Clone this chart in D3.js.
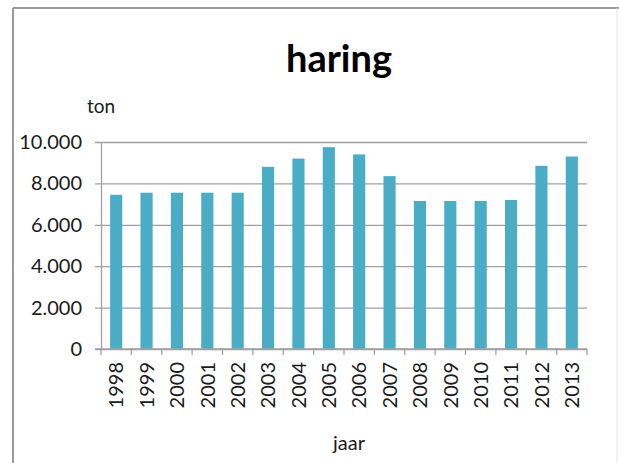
<!DOCTYPE html>
<html>
<head>
<meta charset="utf-8">
<script src="https://cdn.jsdelivr.net/npm/d3@7/dist/d3.min.js"></script>
<style>
  html, body { margin: 0; padding: 0; background: #fff; }
  svg { display: block; }
  text { font-family: Lato, "Open Sans", sans-serif; }
</style>
</head>
<body>
<svg id="chart" width="619" height="463"></svg>
<script>
const years = ["1998","1999","2000","2001","2002","2003","2004","2005","2006","2007","2008","2009","2010","2011","2012","2013"];
const tonnes = [7450, 7550, 7550, 7550, 7550, 8800, 9200, 9750, 9400, 8350, 7150, 7150, 7150, 7200, 8850, 9300];
const yTicks = [0, 2000, 4000, 6000, 8000, 10000];
const yTickLabels = ["0", "2.000", "4.000", "6.000", "8.000", "10.000"];

const svg = d3.select("#chart");
const plotLeft = 101, plotRight = 587, plotTop = 142, plotBottom = 349;

// frame
svg.append("line").attr("x1", 13).attr("x2", 619).attr("y1", 8).attr("y2", 8)
  .attr("stroke", "#9a9a9a").attr("stroke-width", 2);
svg.append("line").attr("x1", 13).attr("x2", 13).attr("y1", 8).attr("y2", 463)
  .attr("stroke", "#9a9a9a").attr("stroke-width", 2);
svg.append("line").attr("x1", 617).attr("x2", 617).attr("y1", 8).attr("y2", 463)
  .attr("stroke", "#e4e4e4").attr("stroke-width", 1);

const x = d3.scaleBand().domain(years).range([plotLeft, plotRight]).paddingInner(0.6).paddingOuter(0.3);
const xb = d3.scaleBand().domain(years).range([plotLeft, plotRight]).padding(0);
const y = d3.scaleLinear().domain([0, 10000]).range([plotBottom, plotTop]);

// gridlines + y ticks
const yAxis = d3.axisLeft(y).tickValues(yTicks).tickSize(-(plotRight - plotLeft)).tickSizeOuter(0)
  .tickFormat((d, i) => yTickLabels[i]).tickPadding(14);
const gy = svg.append("g").attr("transform", `translate(${plotLeft},0)`).call(yAxis);
gy.select(".domain").attr("stroke", "#a0a0a0").attr("stroke-width", 1.3);
gy.selectAll(".tick line").attr("stroke", "#a0a0a0").attr("stroke-width", 1.3).attr("x1", -6);
gy.selectAll(".tick text").attr("font-size", 20).attr("fill", "#1a1a1a")
  .attr("font-family", "Lato, sans-serif").attr("x", -19);

// bars
svg.append("g").selectAll("rect").data(years).join("rect")
  .attr("x", d => x(d))
  .attr("width", x.bandwidth())
  .attr("y", (d, i) => y(tonnes[i]))
  .attr("height", (d, i) => y(0) - y(tonnes[i]))
  .attr("fill", "#4bacc6");

// x axis
const xAxisG = svg.append("g").attr("transform", `translate(0,${plotBottom})`);
xAxisG.append("line").attr("x1", plotLeft - 6).attr("x2", plotRight).attr("y1", 0).attr("y2", 0)
  .attr("stroke", "#a0a0a0").attr("stroke-width", 1.3);
const bounds = years.map(d => xb(d)).concat([plotRight]);
xAxisG.selectAll("line.tk").data(bounds).join("line").attr("class", "tk")
  .attr("x1", d => d).attr("x2", d => d).attr("y1", 0).attr("y2", 6)
  .attr("stroke", "#a0a0a0").attr("stroke-width", 1.3);
xAxisG.selectAll("text").data(years).join("text")
  .attr("transform", d => `translate(${x(d) + x.bandwidth() / 2},13) rotate(-90)`)
  .attr("text-anchor", "end")
  .attr("dy", "0.36em")
  .attr("font-size", 20)
  .attr("fill", "#1a1a1a")
  .text(d => d);

// titles
svg.append("text").attr("x", 339).attr("y", 72).attr("text-anchor", "middle")
  .attr("font-size", 38).attr("font-weight", "bold").attr("fill", "#000").text("haring");
svg.append("text").attr("x", 87).attr("y", 113).attr("font-size", 19).attr("fill", "#1a1a1a").text("ton");
svg.append("text").attr("x", 349).attr("y", 450).attr("text-anchor", "middle")
  .attr("font-size", 20).attr("fill", "#1a1a1a").text("jaar");
</script>
</body>
</html>
